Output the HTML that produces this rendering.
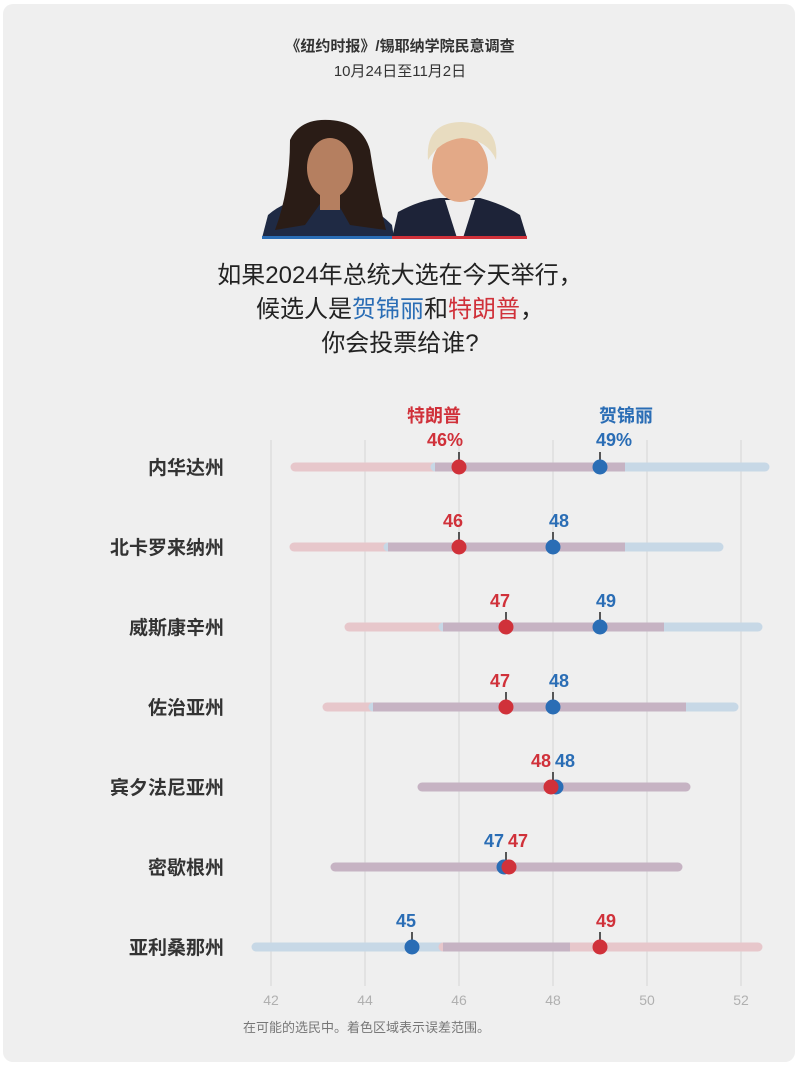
<!DOCTYPE html>
<html><head><meta charset="utf-8">
<style>
html,body{margin:0;padding:0;background:#fff;}
body{width:800px;height:1066px;overflow:hidden;}
svg text{font-family:"Liberation Sans","Noto Sans CJK SC",sans-serif;}
</style></head><body>
<svg width="800" height="1066" viewBox="0 0 800 1066" xmlns="http://www.w3.org/2000/svg">
<rect x="3" y="4" width="792" height="1058" rx="10" fill="#efefef"/>
<text x="400" y="51" text-anchor="middle" font-size="15" font-weight="bold" fill="#333">《纽约时报》/锡耶纳学院民意调查</text>
<text x="400" y="76" text-anchor="middle" font-size="15" fill="#333">10月24日至11月2日</text>
<!-- portraits -->
<g>
<path d="M262 238 L268 215 Q285 200 310 198 L348 198 Q372 205 392 225 L394 238 Z" fill="#1f2a44"/>
<path d="M290 140 Q300 118 330 120 Q362 122 370 150 Q376 190 386 230 L350 225 L330 190 L305 225 L275 230 Q290 190 290 140Z" fill="#2a1c16"/>
<ellipse cx="330" cy="168" rx="23" ry="30" fill="#b57f60"/>
<rect x="320" y="192" width="20" height="18" fill="#b57f60"/>
<path d="M392 238 L398 212 Q420 200 440 198 L480 198 Q505 205 520 215 L527 238 Z" fill="#1d2338"/>
<path d="M445 200 L475 200 L463 238 L457 238Z" fill="#eee"/>
<ellipse cx="460" cy="168" rx="28" ry="34" fill="#e3a987"/>
<path d="M428 160 Q425 122 462 122 Q500 124 496 160 Q488 140 462 138 Q440 140 428 160Z" fill="#e8dcc0"/>
<rect x="262" y="236" width="130" height="3" fill="#2a6db5"/>
<rect x="392" y="236" width="135" height="3" fill="#d0313a"/>
</g>
<text x="400" y="283" text-anchor="middle" font-size="24" fill="#222">如果2024年总统大选在今天举行，</text>
<text x="400" y="317" text-anchor="middle" font-size="24" fill="#222">候选人是<tspan fill="#2a6db5">贺锦丽</tspan>和<tspan fill="#d0313a">特朗普</tspan>，</text>
<text x="400" y="351" text-anchor="middle" font-size="24" fill="#222">你会投票给谁?</text>
<!-- grid -->
<g stroke="#d6d6d6" stroke-width="1">
<line x1="271" y1="440" x2="271" y2="986"/><line x1="365" y1="440" x2="365" y2="986"/>
<line x1="459" y1="440" x2="459" y2="986"/><line x1="553" y1="440" x2="553" y2="986"/>
<line x1="647" y1="440" x2="647" y2="986"/><line x1="741" y1="440" x2="741" y2="986"/>
</g>
<g font-size="14" fill="#b0b0b0" text-anchor="middle">
<text x="271" y="1005">42</text><text x="365" y="1005">44</text><text x="459" y="1005">46</text>
<text x="553" y="1005">48</text><text x="647" y="1005">50</text><text x="741" y="1005">52</text>
</g>
<text x="243" y="1032" font-size="13" fill="#777">在可能的选民中。着色区域表示误差范围。</text>
<!-- state labels -->
<g font-size="19" font-weight="bold" fill="#333" text-anchor="end">
<text x="224" y="474">内华达州</text><text x="224" y="554">北卡罗来纳州</text>
<text x="224" y="634">威斯康辛州</text><text x="224" y="714">佐治亚州</text>
<text x="224" y="794">宾夕法尼亚州</text><text x="224" y="874">密歇根州</text>
<text x="224" y="954">亚利桑那州</text>
</g>
<!-- bars -->
<g stroke-linecap="round" stroke-width="9">
<line x1="295" y1="467" x2="625" y2="467" stroke="#e7c7cb"/><line x1="435" y1="467" x2="765" y2="467" stroke="#c7d8e6"/><line x1="435" y1="467" x2="625" y2="467" stroke="#c6b3c3" stroke-linecap="butt"/>
<line x1="294" y1="547" x2="625" y2="547" stroke="#e7c7cb"/><line x1="388" y1="547" x2="719" y2="547" stroke="#c7d8e6"/><line x1="388" y1="547" x2="625" y2="547" stroke="#c6b3c3" stroke-linecap="butt"/>
<line x1="349" y1="627" x2="664" y2="627" stroke="#e7c7cb"/><line x1="443" y1="627" x2="758" y2="627" stroke="#c7d8e6"/><line x1="443" y1="627" x2="664" y2="627" stroke="#c6b3c3" stroke-linecap="butt"/>
<line x1="327" y1="707" x2="686" y2="707" stroke="#e7c7cb"/><line x1="373" y1="707" x2="734" y2="707" stroke="#c7d8e6"/><line x1="373" y1="707" x2="686" y2="707" stroke="#c6b3c3" stroke-linecap="butt"/>
<line x1="422" y1="787" x2="686" y2="787" stroke="#c6b3c3"/>
<line x1="335" y1="867" x2="678" y2="867" stroke="#c6b3c3"/>
<line x1="256" y1="947" x2="570" y2="947" stroke="#c7d8e6"/><line x1="443" y1="947" x2="758" y2="947" stroke="#e7c7cb"/><line x1="443" y1="947" x2="570" y2="947" stroke="#c6b3c3" stroke-linecap="butt"/>
</g>
<!-- ticks -->
<g stroke="#222" stroke-width="1.5">
<line x1="459" y1="452" x2="459" y2="462"/><line x1="600" y1="452" x2="600" y2="462"/>
<line x1="459" y1="532" x2="459" y2="542"/><line x1="553" y1="532" x2="553" y2="542"/>
<line x1="506" y1="612" x2="506" y2="622"/><line x1="600" y1="612" x2="600" y2="622"/>
<line x1="506" y1="692" x2="506" y2="702"/><line x1="553" y1="692" x2="553" y2="702"/>
<line x1="553" y1="772" x2="553" y2="782"/><line x1="506" y1="852" x2="506" y2="862"/>
<line x1="412" y1="932" x2="412" y2="942"/><line x1="600" y1="932" x2="600" y2="942"/>
</g>
<!-- dots -->
<g>
<circle cx="600" cy="467" r="7.5" fill="#2a6db5"/><circle cx="459" cy="467" r="7.5" fill="#d0313a"/>
<circle cx="553" cy="547" r="7.5" fill="#2a6db5"/><circle cx="459" cy="547" r="7.5" fill="#d0313a"/>
<circle cx="600" cy="627" r="7.5" fill="#2a6db5"/><circle cx="506" cy="627" r="7.5" fill="#d0313a"/>
<circle cx="553" cy="707" r="7.5" fill="#2a6db5"/><circle cx="506" cy="707" r="7.5" fill="#d0313a"/>
<circle cx="556" cy="787" r="7.5" fill="#2a6db5"/><circle cx="551" cy="787" r="7.5" fill="#d0313a"/>
<circle cx="504" cy="867" r="7.5" fill="#2a6db5"/><circle cx="509" cy="867" r="7.5" fill="#d0313a"/>
<circle cx="412" cy="947" r="7.5" fill="#2a6db5"/><circle cx="600" cy="947" r="7.5" fill="#d0313a"/>
</g>
<!-- value labels -->
<g font-size="18" font-weight="bold">
<text x="434" y="422" text-anchor="middle" fill="#d0313a">特朗普</text>
<text x="626" y="422" text-anchor="middle" fill="#2a6db5">贺锦丽</text>
<text x="445" y="446" text-anchor="middle" fill="#d0313a">46%</text>
<text x="614" y="446" text-anchor="middle" fill="#2a6db5">49%</text>
<text x="453" y="527" text-anchor="middle" fill="#d0313a">46</text><text x="559" y="527" text-anchor="middle" fill="#2a6db5">48</text>
<text x="500" y="607" text-anchor="middle" fill="#d0313a">47</text><text x="606" y="607" text-anchor="middle" fill="#2a6db5">49</text>
<text x="500" y="687" text-anchor="middle" fill="#d0313a">47</text><text x="559" y="687" text-anchor="middle" fill="#2a6db5">48</text>
<text x="551" y="767" text-anchor="end" fill="#d0313a">48</text><text x="555" y="767" fill="#2a6db5">48</text>
<text x="504" y="847" text-anchor="end" fill="#2a6db5">47</text><text x="508" y="847" fill="#d0313a">47</text>
<text x="406" y="927" text-anchor="middle" fill="#2a6db5">45</text><text x="606" y="927" text-anchor="middle" fill="#d0313a">49</text>
</g>
</svg>
</body></html>
